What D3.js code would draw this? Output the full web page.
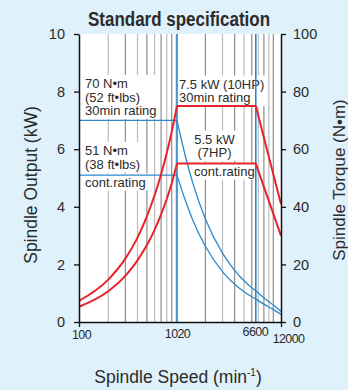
<!DOCTYPE html>
<html>
<head>
<meta charset="utf-8">
<script src="https://cdn.jsdelivr.net/npm/d3@7"></script>
<style>
  html, body { margin: 0; padding: 0; background: #dff1fa; }
  svg { display: block; }
  text { font-family: "Liberation Sans", Arial, Helvetica, sans-serif; fill: #2b2b2b; }
</style>
</head>
<body>
<svg id="chart" width="348" height="390"></svg>
<script>
// Rising part of the output curves (constant torque region), speed in min^-1, output in kW
const speedLow = [100, 200, 300, 400, 500, 600, 700, 800, 900, 1020];
const output30Low = [0.73, 1.47, 2.2, 2.93, 3.67, 4.4, 5.13, 5.87, 6.6, 7.5];
const outputContLow = [0.53, 1.07, 1.6, 2.14, 2.67, 3.2, 3.74, 4.27, 4.81, 5.5];

// Constant output region and high-speed fall-off
const speedHigh = [1020, 6600, 12000];
const output30High = [7.5, 7.5, 4.1];
const outputContHigh = [5.5, 5.5, 3.0];

// Torque curves (N·m)
const speedFlat = [100, 1020];
const torque30Flat = [70, 70];
const torqueContFlat = [51, 51];

const speedFall = [1020, 1250, 1500, 2000, 3000, 4000, 5000, 6000, 6600];
const torque30Fall = [70, 57.3, 47.7, 35.8, 23.9, 17.9, 14.3, 11.9, 10.85];
const torqueContFall = [51, 42.0, 35.0, 26.3, 17.5, 13.1, 10.5, 8.75, 7.96];

const speedTail = [6600, 8000, 10000, 12000];
const torque30Tail = [10.85, 8.4, 5.9, 3.7];
const torqueContTail = [7.96, 6.2, 4.3, 2.7];

// Axis ticks
const outputTicks = [0, 2, 4, 6, 8, 10];
const torqueTicks = [0, 20, 40, 60, 80, 100];
const speedTicks = [100, 1020, 6600, 12000];
const speedTickLabels = ["100", "1020", "6600", "12000"];
const gridSpeeds = [200, 300, 400, 500, 600, 700, 800, 900, 1000,
                    2000, 3000, 4000, 5000, 6000, 7000, 8000, 9000, 10000];
const markerSpeeds = [1020, 6600];

const RED = "#e8232b";
const BLUE = "#2a88cc";

const svg = d3.select("#chart");
const plotL = 79, plotR = 281, plotT = 34, plotB = 322;

const x = d3.scaleLog().domain([100, 12000]).range([plotL, plotR]);
const y = d3.scaleLinear().domain([0, 10]).range([plotB, plotT]);
const yT = d3.scaleLinear().domain([0, 100]).range([plotB, plotT]);

// plot background
svg.append("rect")
  .attr("x", plotL).attr("y", plotT)
  .attr("width", plotR - plotL).attr("height", plotB - plotT)
  .attr("fill", "#ffffff");

// vertical log grid
svg.append("g").selectAll("line").data(gridSpeeds).join("line")
  .attr("x1", d => x(d)).attr("x2", d => x(d))
  .attr("y1", plotT).attr("y2", plotB)
  .attr("stroke", (d, i) => i % 2 ? "#8e8e8e" : "#bcbcbc")
  .attr("stroke-width", 1.2);

// annotation blocks (white panels hide the grid behind the text)
const notes = [
  { x: 85, y: 88, lines: ["70 N\u2022m", "(52 ft\u2022lbs)", "30min rating"], lh: 13.5 },
  { x: 85, y: 155, lines: ["51 N\u2022m", "(38 ft\u2022lbs)"], lh: 13.5 },
  { x: 85, y: 186.5, lines: ["cont.rating"], lh: 13.5 },
  { x: 179, y: 88.5, lines: ["7.5 kW (10HP)", "30min rating"], lh: 13.5 },
  { x: 214.5, y: 143.5, lines: ["5.5 kW", "(7HP)"], lh: 13.5, anchor: "middle" },
  { x: 194, y: 175.5, lines: ["cont.rating"], lh: 13.5 }
];
const noteLayer = svg.append("g");
notes.forEach(n => {
  const g = noteLayer.append("g");
  const t = g.append("text")
    .attr("font-size", 13)
    .attr("text-anchor", n.anchor || "start");
  n.lines.forEach((s, i) => {
    t.append("tspan").attr("x", n.x).attr("y", n.y + i * n.lh).text(s);
  });
  const b = t.node().getBBox();
  g.insert("rect", "text")
    .attr("x", b.x - 2).attr("y", b.y - 1)
    .attr("width", b.width + 4).attr("height", b.height + 2)
    .attr("fill", "#ffffff");
});

// base speed and max constant-output speed markers
svg.append("g").selectAll("line").data(markerSpeeds).join("line")
  .attr("x1", d => x(d)).attr("x2", d => x(d))
  .attr("y1", plotT).attr("y2", plotB)
  .attr("stroke", BLUE).attr("stroke-width", 1.6);

const pts = (sx, sy) => sx.map((s, i) => [s, sy[i]]);
const curveLine = (ys) => d3.line().x(d => x(d[0])).y(d => ys(d[1])).curve(d3.curveMonotoneX);
const straightLine = (ys) => d3.line().x(d => x(d[0])).y(d => ys(d[1]));

function draw(path, color) {
  svg.append("path").attr("d", path)
    .attr("fill", "none").attr("stroke", color)
    .attr("stroke-width", 1.3).attr("stroke-linejoin", "round");
}

// torque (blue, right axis)
draw(straightLine(yT)(pts(speedFlat, torque30Flat)), BLUE);
draw(straightLine(yT)(pts(speedFlat, torqueContFlat)), BLUE);
draw(curveLine(yT)(pts(speedFall, torque30Fall)), BLUE);
draw(curveLine(yT)(pts(speedFall, torqueContFall)), BLUE);
draw(curveLine(yT)(pts(speedTail, torque30Tail)), BLUE);
draw(curveLine(yT)(pts(speedTail, torqueContTail)), BLUE);

// output (red, left axis)
function drawRed(path) {
  svg.append("path").attr("d", path)
    .attr("fill", "none").attr("stroke", RED)
    .attr("stroke-width", 2).attr("stroke-linejoin", "round");
}
drawRed(curveLine(y)(pts(speedLow, output30Low)));
drawRed(curveLine(y)(pts(speedLow, outputContLow)));
drawRed(straightLine(y)(pts(speedHigh, output30High)));
drawRed(straightLine(y)(pts(speedHigh, outputContHigh)));

// axes
function styleAxis(g, size) {
  g.select(".domain").attr("stroke", "#111").attr("stroke-width", 1.5);
  g.selectAll(".tick line").attr("stroke", "#111").attr("stroke-width", 1.3);
  g.selectAll(".tick text").attr("font-size", size).attr("fill", "#2b2b2b")
    .attr("font-family", "'Liberation Sans', Arial, sans-serif");
}

const gl = svg.append("g").attr("transform", `translate(${plotL},0)`)
  .call(d3.axisLeft(y).tickValues(outputTicks).tickSize(5).tickSizeOuter(0).tickPadding(9));
styleAxis(gl, 14.5);

const gr = svg.append("g").attr("transform", `translate(${plotR},0)`)
  .call(d3.axisRight(yT).tickValues(torqueTicks).tickSize(5).tickSizeOuter(0).tickPadding(7));
styleAxis(gr, 14.5);

const gb = svg.append("g").attr("transform", `translate(0,${plotB})`)
  .call(d3.axisBottom(x).tickValues(speedTicks).tickSize(4).tickSizeOuter(0)
    .tickFormat((d, i) => speedTickLabels[i]));
styleAxis(gb, 12.5);
gb.selectAll(".tick line").attr("y2", (d, i) => (i === 0 || i === 3) ? 5 : 0);
const labelShift = [[2, 4], [0, 2.5], [-1, 1], [7, 8]];
gb.selectAll(".tick text")
  .attr("letter-spacing", -0.6)
  .attr("dy", 0)
  .attr("x", (d, i) => labelShift[i][0])
  .attr("y", (d, i) => 13 + labelShift[i][1]);

// title (condensed bold)
svg.append("text")
  .attr("x", 179).attr("y", 26)
  .attr("text-anchor", "middle")
  .attr("font-weight", "bold")
  .attr("font-size", 19.5)
  .attr("textLength", 182)
  .attr("lengthAdjust", "spacingAndGlyphs")
  .attr("fill", "#2b2b2b")
  .text("Standard specification");

// axis titles
svg.append("text")
  .attr("transform", "translate(37,185) rotate(-90)")
  .attr("text-anchor", "middle").attr("font-size", 17.5)
  .text("Spindle Output (kW)");

svg.append("text")
  .attr("transform", "translate(344.5,180) rotate(-90)")
  .attr("text-anchor", "middle").attr("font-size", 17)
  .text("Spindle Torque (N\u2022m)");

const xt = svg.append("text")
  .attr("x", 178).attr("y", 383)
  .attr("text-anchor", "middle").attr("font-size", 17.5);
xt.append("tspan").text("Spindle Speed (min");
xt.append("tspan").attr("font-size", 10).attr("dy", -7).text("-1");
xt.append("tspan").attr("dy", 7).text(")");
</script>
</body>
</html>
